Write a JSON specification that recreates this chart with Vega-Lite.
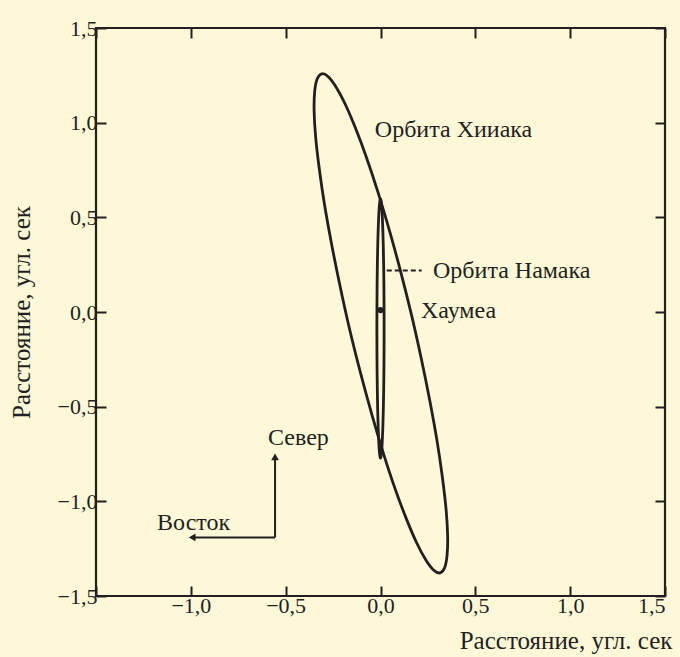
{
  "$schema": "https://vega.github.io/schema/vega-lite/v6.json",
  "width": 569,
  "height": 568,
  "autosize": {"type": "none"},
  "padding": {"left": 96, "top": 28, "right": 15, "bottom": 61},
  "background": "#FDF8D8",
  "config": {
    "view": {"stroke": "#231F20", "strokeWidth": 2.2},
    "font": "Liberation Serif",
    "axis": {
      "domain": false,
      "grid": false,
      "tickColor": "#231F20",
      "tickWidth": 2,
      "tickSize": -10,
      "labelFont": "Liberation Serif",
      "labelFontSize": 22,
      "labelColor": "#231F20",
      "titleFont": "Liberation Serif",
      "titleFontSize": 25,
      "titleFontWeight": "normal",
      "titleColor": "#231F20"
    }
  },
  "datasets": {
    "hiiaka": [
      {"i": 0, "x": -0.310, "y": 1.258}, {"i": 1, "x": -0.277, "y": 1.244}, {"i": 2, "x": -0.236, "y": 1.191},
      {"i": 3, "x": -0.187, "y": 1.100}, {"i": 4, "x": -0.133, "y": 0.974}, {"i": 5, "x": -0.074, "y": 0.816},
      {"i": 6, "x": -0.013, "y": 0.632}, {"i": 7, "x": 0.048, "y": 0.427}, {"i": 8, "x": 0.108, "y": 0.207},
      {"i": 9, "x": 0.165, "y": -0.022}, {"i": 10, "x": 0.216, "y": -0.251}, {"i": 11, "x": 0.261, "y": -0.474},
      {"i": 12, "x": 0.299, "y": -0.686}, {"i": 13, "x": 0.327, "y": -0.878}, {"i": 14, "x": 0.346, "y": -1.045},
      {"i": 15, "x": 0.354, "y": -1.182}, {"i": 16, "x": 0.351, "y": -1.285}, {"i": 17, "x": 0.338, "y": -1.351},
      {"i": 18, "x": 0.314, "y": -1.378}, {"i": 19, "x": 0.281, "y": -1.364}, {"i": 20, "x": 0.240, "y": -1.311},
      {"i": 21, "x": 0.191, "y": -1.220}, {"i": 22, "x": 0.137, "y": -1.094}, {"i": 23, "x": 0.078, "y": -0.937},
      {"i": 24, "x": 0.017, "y": -0.752}, {"i": 25, "x": -0.044, "y": -0.547}, {"i": 26, "x": -0.104, "y": -0.327},
      {"i": 27, "x": -0.161, "y": -0.099}, {"i": 28, "x": -0.212, "y": 0.131}, {"i": 29, "x": -0.257, "y": 0.354},
      {"i": 30, "x": -0.295, "y": 0.566}, {"i": 31, "x": -0.323, "y": 0.758}, {"i": 32, "x": -0.342, "y": 0.925},
      {"i": 33, "x": -0.350, "y": 1.062}, {"i": 34, "x": -0.347, "y": 1.165}, {"i": 35, "x": -0.334, "y": 1.231}
    ],
    "namaka": [
      {"i": 0, "x": 0, "y": 0.597}, {"i": 1, "x": 0.0033, "y": 0.586}, {"i": 2, "x": 0.0065, "y": 0.555},
      {"i": 3, "x": 0.0095, "y": 0.505}, {"i": 4, "x": 0.0122, "y": 0.437}, {"i": 5, "x": 0.0146, "y": 0.352},
      {"i": 6, "x": 0.0165, "y": 0.255}, {"i": 7, "x": 0.0179, "y": 0.146}, {"i": 8, "x": 0.0187, "y": 0.031},
      {"i": 9, "x": 0.019, "y": -0.088}, {"i": 10, "x": 0.0187, "y": -0.206}, {"i": 11, "x": 0.0179, "y": -0.321},
      {"i": 12, "x": 0.0165, "y": -0.430}, {"i": 13, "x": 0.0146, "y": -0.527}, {"i": 14, "x": 0.0122, "y": -0.612},
      {"i": 15, "x": 0.0095, "y": -0.680}, {"i": 16, "x": 0.0065, "y": -0.730}, {"i": 17, "x": 0.0033, "y": -0.761},
      {"i": 18, "x": 0, "y": -0.772}, {"i": 19, "x": -0.0033, "y": -0.761}, {"i": 20, "x": -0.0065, "y": -0.730},
      {"i": 21, "x": -0.0095, "y": -0.680}, {"i": 22, "x": -0.0122, "y": -0.612}, {"i": 23, "x": -0.0146, "y": -0.527},
      {"i": 24, "x": -0.0165, "y": -0.430}, {"i": 25, "x": -0.0179, "y": -0.321}, {"i": 26, "x": -0.0187, "y": -0.206},
      {"i": 27, "x": -0.019, "y": -0.088}, {"i": 28, "x": -0.0187, "y": 0.031}, {"i": 29, "x": -0.0179, "y": 0.146},
      {"i": 30, "x": -0.0165, "y": 0.255}, {"i": 31, "x": -0.0146, "y": 0.352}, {"i": 32, "x": -0.0122, "y": 0.437},
      {"i": 33, "x": -0.0095, "y": 0.505}, {"i": 34, "x": -0.0065, "y": 0.555}, {"i": 35, "x": -0.0033, "y": 0.586}
    ],
    "labels": [
      {"text": "Орбита Хииака", "x": -0.03, "y": 0.925},
      {"text": "Орбита Намака", "x": 0.277, "y": 0.182},
      {"text": "Хаумеа", "x": 0.213, "y": -0.03},
      {"text": "Север", "x": -0.593, "y": -0.70},
      {"text": "Восток", "x": -1.178, "y": -1.149}
    ],
    "haumea": [{"x": 0, "y": 0.01}],
    "dash": [{"x": 0.033, "y": 0.219, "x2": 0.217}],
    "arrows": [
      {"x": -0.556, "y": -1.191, "x2": -0.556, "y2": -0.76},
      {"x": -0.556, "y": -1.191, "x2": -0.985, "y2": -1.191}
    ],
    "northHead": [{"x": -0.556, "y": -0.765}],
    "eastHead": [{"x": -0.993, "y": -1.191}]
  },
  "layer": [
    {
      "layer": [
        {
          "data": {"name": "hiiaka"},
          "mark": {"type": "line", "interpolate": "cardinal-closed", "tension": 0, "stroke": "#231F20", "strokeWidth": 2.8},
          "encoding": {
            "x": {"field": "x", "type": "quantitative", "scale": {"domain": [-1.5, 1.5], "nice": false, "zero": false},
              "axis": {"title": "Расстояние, угл. сек", "values": [-1.5, -1, -0.5, 0, 0.5, 1, 1.5], "labelExpr": "datum.value == -1.5 ? '' : replace(format(datum.value, '.1f'), '.', ',')", "labelPadding": 9, "titleX": 576, "titleY": 52, "titleAlign": "right", "titleBaseline": "alphabetic"}},
            "y": {"field": "y", "type": "quantitative", "scale": {"domain": [-1.5, 1.5], "nice": false, "zero": false},
              "axis": {"title": "Расстояние, угл. сек", "values": [-1.5, -1, -0.5, 0, 0.5, 1, 1.5], "labelExpr": "replace(format(datum.value, '.1f'), '.', ',')", "labelPadding": 9, "titleX": -75, "titleBaseline": "middle"}},
            "order": {"field": "i", "type": "quantitative"}
          }
        },
        {
          "data": {"name": "namaka"},
          "mark": {"type": "line", "interpolate": "cardinal-closed", "tension": 0, "stroke": "#231F20", "strokeWidth": 2.8},
          "encoding": {
            "x": {"field": "x", "type": "quantitative"},
            "y": {"field": "y", "type": "quantitative"},
            "order": {"field": "i", "type": "quantitative"}
          }
        },
        {
          "data": {"name": "dash"},
          "mark": {"type": "rule", "stroke": "#231F20", "strokeWidth": 2, "strokeDash": [5, 3]},
          "encoding": {
            "x": {"field": "x", "type": "quantitative"},
            "x2": {"field": "x2"},
            "y": {"field": "y", "type": "quantitative"}
          }
        },
        {
          "data": {"name": "arrows"},
          "mark": {"type": "rule", "stroke": "#231F20", "strokeWidth": 2},
          "encoding": {
            "x": {"field": "x", "type": "quantitative"},
            "x2": {"field": "x2"},
            "y": {"field": "y", "type": "quantitative"},
            "y2": {"field": "y2"}
          }
        },
        {
          "data": {"name": "northHead"},
          "mark": {"type": "point", "shape": "triangle-up", "filled": true, "size": 60, "color": "#231F20", "opacity": 1},
          "encoding": {
            "x": {"field": "x", "type": "quantitative"},
            "y": {"field": "y", "type": "quantitative"}
          }
        },
        {
          "data": {"name": "eastHead"},
          "mark": {"type": "point", "shape": "triangle-left", "filled": true, "size": 60, "color": "#231F20", "opacity": 1},
          "encoding": {
            "x": {"field": "x", "type": "quantitative"},
            "y": {"field": "y", "type": "quantitative"}
          }
        },
        {
          "data": {"name": "labels"},
          "mark": {"type": "text", "align": "left", "baseline": "alphabetic", "font": "Liberation Serif", "fontSize": 24, "color": "#231F20"},
          "encoding": {
            "x": {"field": "x", "type": "quantitative"},
            "y": {"field": "y", "type": "quantitative"},
            "text": {"field": "text"}
          }
        }
      ]
    },
    {
      "data": {"name": "haumea"},
      "mark": {"type": "point", "shape": "circle", "filled": true, "size": 40, "color": "#231F20", "opacity": 1},
      "encoding": {
        "x": {"field": "x", "type": "quantitative", "scale": {"domain": [-1.5, 1.5], "nice": false, "zero": false},
          "axis": {"orient": "top", "labels": false, "title": null, "values": [-1.5, -1, -0.5, 0, 0.5, 1, 1.5]}},
        "y": {"field": "y", "type": "quantitative", "scale": {"domain": [-1.5, 1.5], "nice": false, "zero": false},
          "axis": {"orient": "right", "labels": false, "title": null, "values": [-1.5, -1, -0.5, 0, 0.5, 1, 1.5]}}
      }
    }
  ],
  "resolve": {"axis": {"x": "independent", "y": "independent"}}
}
